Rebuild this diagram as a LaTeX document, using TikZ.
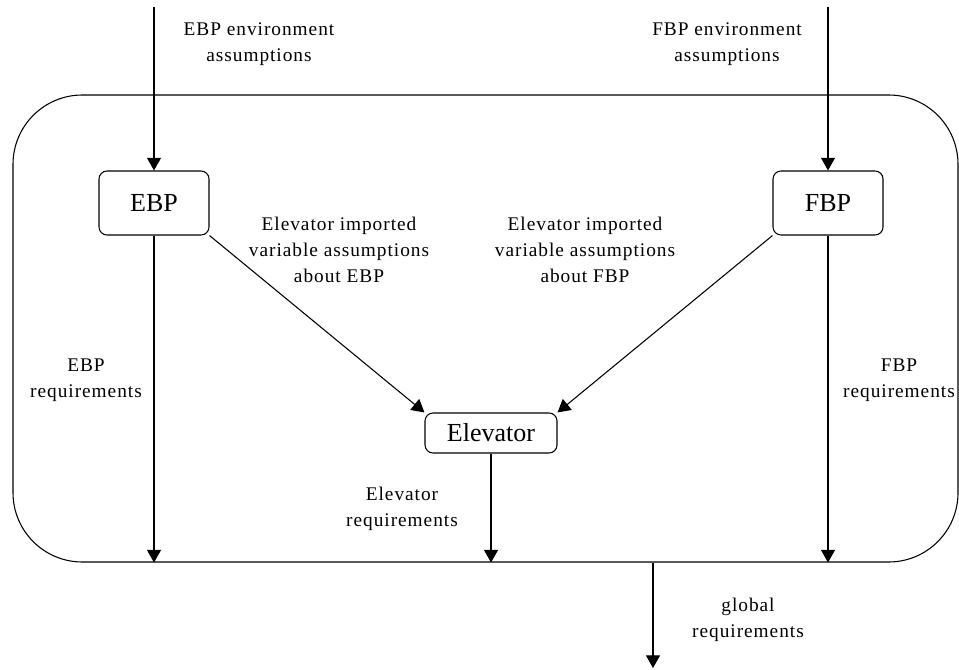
\documentclass[tikz,border=0pt]{standalone}
\usepackage{fontspec}
\setmainfont{Liberation Serif}
\newfontfamily\labelfont[LetterSpace=5]{Liberation Serif}
\usetikzlibrary{positioning,arrows.meta}

\begin{document}
\begin{tikzpicture}[x=0.75pt, y=-0.75pt,
    block/.style={draw, line width=0.8pt, rounded corners=6pt, minimum width=82.5pt,
      minimum height=48pt, font=\fontsize{19.5}{23}\selectfont},
    note/.style={align=center, inner sep=0pt, font=\labelfont\fontsize{14.5}{19.5}\selectfont},
    frame/.style={draw, line width=0.8pt, rounded corners=52pt, minimum width=708.75pt,
      minimum height=350.25pt},
    flow/.style={-{Triangle[length=9.5pt,width=10.5pt]}, line width=0.8pt},
  ]
  \useasboundingbox (0,0) rectangle (959,670);

  % ------------------------------------------------------------- enclosing box
  \node[frame] (system) at (485.5,328.5) {};

  % ------------------------------------------------------------------ blocks
  \node[block] (ebp) at (154,203) {EBP};
  \node[block] (fbp) at (828,203) {FBP};
  \node[block, minimum width=99pt, minimum height=30pt] (elevator) at (491,433) {Elevator};

  % ------------------------------------------------------------------ labels
  \node[note] (ebpenv)  at (259,44)  {EBP environment\\assumptions};
  \node[note] (fbpenv)  at (727,44)  {FBP environment\\assumptions};
  \node[note] (ebpimp)  at (339,250) {Elevator imported\\variable assumptions\\about EBP};
  \node[note] (fbpimp)  at (585,250) {Elevator imported\\variable assumptions\\about FBP};
  \node[note] (ebpreq)  at (86,380)  {EBP\\requirements};
  \node[note] (fbpreq)  at (899,380) {FBP\\requirements};
  \node[note] (elevreq) at (402,509) {Elevator\\requirements};
  \node[note] (globreq) at (748,620) {global\\requirements};

  % ------------------------------------------------------------------ arrows
  \coordinate (ebpsrc)  at (154,7);
  \coordinate (fbpsrc)  at (828,7);
  \coordinate (globdst) at (653,668);

  \draw[flow] (ebpsrc) -- (ebp);
  \draw[flow] (fbpsrc) -- (fbp);
  \draw[flow] (ebp.south east) -- (elevator.north west);
  \draw[flow] (fbp.south west) -- (elevator.north east);
  \draw[flow] (ebp) -- (ebp |- system.south);
  \draw[flow] (fbp) -- (fbp |- system.south);
  \draw[flow] (elevator) -- (elevator |- system.south);
  \draw[flow] (system.south -| globdst) -- (globdst);
\end{tikzpicture}
\end{document}
